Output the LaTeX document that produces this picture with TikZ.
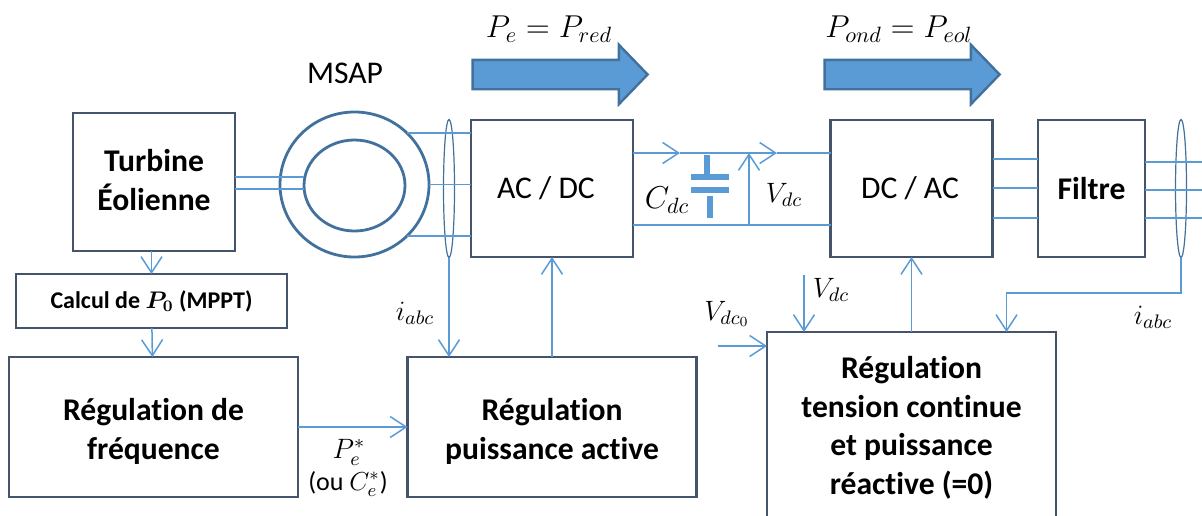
\documentclass[tikz,border=0pt]{standalone}
\usepackage{fix-cm}
\usepackage{fontspec}
\setmainfont[Ligatures=NoCommon]{Carlito}
\usepackage{tikz}
\usetikzlibrary{shapes,arrows.meta}
\definecolor{boxline}{HTML}{44546A}
\definecolor{machine}{HTML}{41719C}
\definecolor{wireblue}{HTML}{5B9BD5}
\newcommand{\sizeA}{\fontsize{15.8}{19.3}\selectfont}
\newcommand{\sizeB}{\fontsize{12}{14}\selectfont}
\newcommand{\sizeC}{\fontsize{13}{15}\selectfont}
\newcommand{\sizeD}{\fontsize{14}{16}\selectfont}
\tikzstyle{block} = [draw=boxline, line width=1.4pt, outer sep=0pt, inner sep=0pt, align=center, font=\sizeA]
\tikzstyle{conv} = [block, minimum width=81pt, minimum height=68.5pt]
\tikzstyle{regul} = [block, font=\sizeA\bfseries, minimum width=144.5pt]
\tikzstyle{machinering} = [draw=machine, line width=1.4pt, ellipse, outer sep=0pt, inner sep=0pt]
\tikzstyle{lens} = [draw=machine, line width=0.6pt, ellipse, outer sep=0pt, inner sep=0pt, minimum width=5.5pt, minimum height=69pt]
\tikzstyle{flow} = [draw=machine, fill=wireblue, line width=1.2pt, single arrow, inner sep=0pt, text height=13.5pt, minimum height=87.5pt, single arrow tip angle=92, single arrow head extend=7.5pt, outer sep=0pt]
\tikzstyle{wire} = [draw=wireblue, line width=0.75pt]
\tikzstyle{plate} = [draw=wireblue, line width=3pt]
\tikzstyle{lab} = [font=\sizeA, inner sep=0pt]

\begin{document}
\begin{tikzpicture}[>={Straight Barb[length=8pt,width=10.5pt]},x=0.5pt,y=-0.5pt]
  \useasboundingbox (0,0) rectangle (1202,515);

  \node[block,font=\sizeA\bfseries,minimum width=81pt,minimum height=69pt] (turbine) at (154,182) {Turbine\\Éolienne\rule[-2pt]{0pt}{0pt}};
  \node[block,font=\sizeB\bfseries,minimum width=135.5pt,minimum height=27pt,below of=turbine,node distance=59.5pt,xshift=-1.25pt] (calcul) {Calcul de {\boldmath $P_0$} (MPPT)};
  \node[regul,minimum height=70pt,below of=calcul,node distance=63pt,xshift=1pt] (regfreq) {\rule{0pt}{15.5pt}Régulation de\\fréquence};

  \node[machinering,minimum width=74.5pt,minimum height=72.5pt,right of=turbine,node distance=100.25pt,yshift=-1.25pt] (stator) {};
  \node[machinering,minimum width=50.5pt,minimum height=45.5pt,yshift=-0.5pt] (rotor) at (stator) {};
  \node[lab,above of=stator,node distance=55.75pt,xshift=-4.75pt] (msap) {MSAP};

  \node[conv,right of=stator,node distance=98.75pt,yshift=-2pt] (acdc) {AC / DC\hspace{6pt}};
  \node[conv,right of=acdc,node distance=179.75pt] (dcac) {DC / AC\hspace{1.5pt}};
  \node[block,font=\sizeA\bfseries,minimum width=53.5pt,minimum height=68.5pt,right of=dcac,node distance=90pt] (filtre) {Filtre};
  \node[lens,left of=acdc,node distance=51.5pt] (lensac) {};
  \node[lens,right of=filtre,node distance=44.75pt] (lensout) {};

  \node[regul,minimum height=70pt,below of=acdc,node distance=119.25pt] (regpuis) {\rule{0pt}{15.5pt}Régulation\\puissance active};
  \node[regul,minimum height=93pt,below of=dcac,node distance=118.25pt] (regtens) {\rule{0pt}{14pt}Régulation\\tension continue\\et puissance\\réactive (=0)};

  \node[flow,above of=acdc,node distance=57pt,xshift=0.5pt] (flowa) {};
  \node[flow,above of=dcac,node distance=57pt,xshift=-3.25pt] (flowb) {};

  \node[lab] (pe) at (549,29) {$P_e = P_{red}$};
  \node[lab] (pond) at (899,29) {$P_{ond} = P_{eol}$};
  \node[lab] (cdc) at (667,200) {$C_{dc}$};
  \node[lab,font=\sizeD] (vdca) at (784,195) {$V_{dc}$};
  \node[lab,font=\sizeD] (vdcb) at (831,290) {$V_{dc}$};
  \node[lab,font=\sizeD] (vdcz) at (727,314) {$V_{dc_0}$};
  \node[lab,font=\sizeD] (iabca) at (415,313) {$i_{abc}$};
  \node[lab,font=\sizeD] (iabcb) at (1153,317) {$i_{abc}$};
  \node[lab,font=\sizeD] (pref) at (349,452) {$P_e^*$};
  \node[lab,font=\sizeC] (cref) at (348,484) {(ou $C_e^*$)};

  \coordinate (busa) at (680,153);
  \coordinate (busb) at (777,153);
  \coordinate (busc) at (749,225);
  \coordinate (vdcin) at (804,275);
  \coordinate (vdcref) at (717.5,346);
  \coordinate (iabcin) at (1006.5,293);
  \coordinate (outa) at (1202,162);
  \coordinate (outb) at (1202,190);
  \coordinate (outc) at (1202,218);

  \begin{scope}[every path/.style=draw,wire]
    \path[->] (calcul.north |- turbine.south) -- (calcul.north);
    \path[->] (calcul) -- (regfreq);
    \path[->] (regfreq) -- (regpuis);
    \path[->] (regpuis) -- (acdc);
    \path[->] (regtens) -- (dcac);
    \path[->] (lensac.south) -- (lensac.south |- regpuis.north);
    \path[->] (lensout.south) |- (iabcin) -- (iabcin |- regtens.north);
    \path[->] (vdcin) -- (vdcin |- regtens.north);
    \path[->] (vdcref) -- (regtens.west |- vdcref);

    \path ([yshift=2.5pt]turbine.east) -- ([yshift=4.25pt]rotor.west);
    \path ([yshift=-3.5pt]turbine.east) -- ([yshift=-1.75pt]rotor.west);
    \path (stator.north east) -- (acdc.west |- stator.north east);
    \path (stator.east) -- (acdc.west |- stator.east);
    \path (stator.south east) -- (acdc.west |- stator.south east);

    \path[->] (acdc.east |- busa) -- (busa);
    \path[->] (busa) -- (busb);
    \path (busb) -- (dcac.west |- busb);
    \path (acdc.east |- busc) -- (dcac.west |- busc);
    \path[->] (busc) -- (busc |- busa);

    \path ([yshift=14.75pt]dcac.east) -- ([yshift=14.75pt]filtre.west);
    \path ([yshift=0.25pt]dcac.east) -- ([yshift=0.25pt]filtre.west);
    \path ([yshift=-14.75pt]dcac.east) -- ([yshift=-14.75pt]filtre.west);
    \path (filtre.east |- outa) -- (outa);
    \path (filtre.east |- outb) -- (outb);
    \path (filtre.east |- outc) -- (outc);
  \end{scope}

  % condensateur
  \draw[plate] (707,155) -- (707,174);
  \draw[plate] (691,177) -- (729,177);
  \draw[plate] (691,190) -- (729,190);
  \draw[plate] (710,196) -- (710,218);

\end{tikzpicture}
\end{document}
